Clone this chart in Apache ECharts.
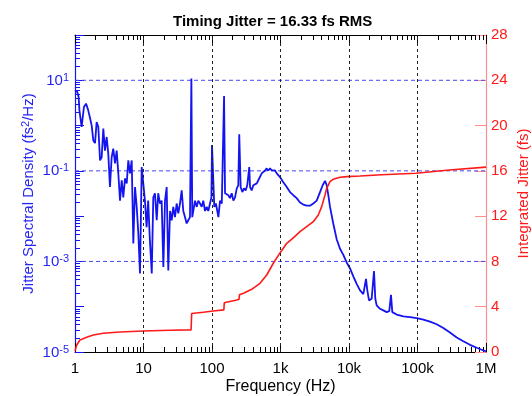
<!DOCTYPE html>
<html><head><meta charset="utf-8">
<script src="https://cdn.jsdelivr.net/npm/echarts@6/dist/echarts.min.js"></script>
<style>html,body{margin:0;padding:0;background:#fff}#c{width:532px;height:396px}</style>
</head><body><div id="c"></div>
<script>
// ---- data (frequency in Hz, PSD in fs^2/Hz) ----
const psdPoints = [[1,6.0],[1.08,5.5],[1.13,4.28],[1.16,2.17],[1.21,2.4],[1.25,0.93],[1.32,0.86],[1.35,2.57],[1.45,3.05],[1.56,2.17],[1.66,1.45],[1.75,1.01],[1.85,0.47],[1.96,0.41],[2.07,1.2],[2.19,0.93],[2.32,0.17],[2.45,0.2],[2.59,0.86],[2.74,0.28],[2.9,0.56],[3.06,0.24],[3.24,0.044],[3.43,0.2],[3.62,0.31],[3.84,0.147],[4.06,0.28],[4.29,0.088],[4.54,0.022],[4.81,0.062],[5.07,0.026],[5.37,0.068],[5.69,0.053],[6.0,0.17],[6.35,0.088],[6.73,0.17],[7.1,0.0025],[7.52,0.044],[7.96,0.016],[8.4,0.0042],[8.89,0.00054],[9.42,0.121],[9.93,0.126],[10.5,0.022],[11.1,0.0057],[11.7,0.022],[12.4,0.0029],[13.2,0.00054],[13.9,0.026],[14.7,0.032],[15.6,0.0081],[16.4,0.032],[17.4,0.019],[18.4,0.022],[19.5,0.00075],[20.6,0.022],[21.8,0.044],[23.0,0.00063],[24.4,0.013],[25.8,0.0081],[27.2,0.016],[28.8,0.0095],[30.5,0.019],[32.2,0.0115],[34.1,0.019],[36.1,0.037],[38.1,0.013],[40.4,0.0095],[42.7,0.0069],[45.1,0.0081],[47.7,0.0095],[50,11],[51.5,0.0095],[56.5,0.022],[59.8,0.016],[63.1,0.022],[66.8,0.019],[70.8,0.016],[74.6,0.022],[79.1,0.013],[83.7,0.016],[88.3,0.013],[93.5,0.019],[98,0.026],[100,0.37],[108,0.016],[114,0.019],[124,0.0095],[131,0.022],[139,0.019],[150,4.5],[155,0.032],[164,0.034],[173,0.029],[183,0.025],[194,0.032],[205,0.022],[217,0.026],[230,0.041],[242,0.048],[250,0.64],[262,0.044],[277,0.034],[293,0.041],[310,0.037],[327,0.048],[350,0.121],[359,0.044],[380,0.037],[401,0.048],[425,0.044],[450,0.053],[474,0.062],[502,0.068],[532,0.088],[561,0.08],[594,0.102],[629,0.113],[664,0.102],[703,0.113],[745,0.102],[785,0.094],[832,0.102],[881,0.088],[929,0.08],[984,0.073],[1099,0.056],[1233,0.044],[1376,0.034],[1538,0.029],[1722,0.025],[1927,0.02],[2153,0.018],[2412,0.017],[2698,0.017],[3013,0.019],[3377,0.022],[3775,0.034],[4130,0.048],[4467,0.06],[4732,0.048],[4989,0.029],[5284,0.016],[5902,0.0068],[6607,0.0031],[7391,0.0019],[8260,0.0014],[9250,0.00095],[10350,0.0007],[11560,0.00047],[12940,0.00032],[14490,0.00023],[16180,0.00019],[16560,0.00023],[17700,0.00041],[18500,0.00023],[19590,0.000138],[21430,0.00015],[23170,0.00061],[24210,0.00015],[25350,0.000107],[28380,0.00009],[31700,0.000083],[35480,0.000076],[38730,0.00008],[41020,0.000184],[42850,0.000076],[49660,0.000067],[62090,0.000061],[77800,0.000059],[97300,0.000056],[121600,0.000052],[152100,0.000047],[190500,0.000041],[238200,0.000034],[297900,0.000027],[373300,0.000021],[466700,0.0000173],[583400,0.0000144],[731200,0.0000124],[865000,0.0000112],[1000000,0.0000103]];
// integrated jitter (fs)
const jitterPoints = [[1,0.1],[1.06,0.62],[1.18,1.06],[1.48,1.3],[1.85,1.5],[2.59,1.65],[4.54,1.77],[9.93,1.86],[24.4,1.92],[49.5,1.95],[50.5,3.4],[74.6,3.51],[104,3.62],[149,3.72],[151,4.35],[230,4.59],[248,4.65],[252,5.05],[289,5.19],[380,5.54],[502,6.07],[629,6.8],[785,7.84],[984,8.75],[1233,9.6],[1507,10.04],[1927,10.63],[2412,11.07],[3013,11.51],[3565,12.1],[3990,12.84],[4467,13.87],[4732,14.46],[5284,15.04],[5902,15.26],[7391,15.43],[9250,15.49],[14490,15.55],[30000,15.65],[95000,15.79],[291000,16.08],[1000000,16.33]];
const xTickLabels = ['1','10','100','1k','10k','100k','1M'];
const yLabelExponents = [-5,-3,-1,1];
const xGridValues = [10,100,1000,10000,100000];
const yGridValues = [10,0.1,0.001];
const titleText = 'Timing Jitter = 16.33 fs RMS';

// minor tick positions (2..9 per decade)
function minors(lo, hi){const a=[];for(let e=lo;e<hi;e++){for(let k=2;k<=9;k++)a.push(+(k*Math.pow(10,e)).toPrecision(3));}return a;}
function majors(lo, hi){const a=[];for(let e=lo;e<=hi;e++)a.push(+Math.pow(10,e).toPrecision(3));return a;}
const xMinor = minors(0,6), xMajor = majors(0,6);
const yMinor = minors(-5,2), yMajor = majors(-5,2);
const X_MIN = 1, X_MAX = 1e6;

const FONT = 'Liberation Sans, Arial, Helvetica, sans-serif';
const BLUE = '#1414f0', BLUE_TXT = '#2626f2', RED = '#ff1a1a', PINK = '#ff8f8f';

const chart = echarts.init(document.getElementById('c'), null, {renderer:'canvas'});
const xBase = {type:'log', logBase:10, min:X_MIN, max:X_MAX, splitLine:{show:false}, axisLabel:{show:false}, axisLine:{show:false, onZero:false}};
const yLogBase = {type:'log', logBase:10, min:1e-5, max:100, splitLine:{show:false}, axisLabel:{show:false}, axisLine:{show:false, onZero:false}};
const supRich = {
  b:{fontSize:15, color:BLUE_TXT, fontFamily:FONT, verticalAlign:'bottom', lineHeight:16},
  s:{fontSize:11, color:BLUE_TXT, fontFamily:FONT, verticalAlign:'top', lineHeight:12, padding:[0,0,6,0]}
};
const hGridSeries = yGridValues.map(v=>({
  type:'line', xAxisIndex:0, yAxisIndex:0, data:[[X_MIN,v],[X_MAX,v]], showSymbol:false, silent:true, z:1,
  lineStyle:{color:'#4545f0', type:[4,3], width:1}
}));
chart.setOption({
  animation:false,
  textStyle:{fontFamily:FONT},
  title:{text:titleText, left:168, top:9, textStyle:{fontSize:15, fontWeight:'bold', color:'#000', fontFamily:FONT}},
  grid:{left:75, right:46, top:35, bottom:44, containLabel:false, outerBoundsMode:'none'},
  xAxis:[
    Object.assign({}, xBase, {position:'bottom',
      axisLine:{show:true, onZero:false, lineStyle:{color:'#000', width:1}},
      axisTick:{inside:true, length:9, customValues:xMajor, lineStyle:{color:'#000'}},
      axisLabel:{show:true, interval:0, customValues:xMajor, color:'#000', fontSize:15, margin:9, fontFamily:FONT,
        formatter:v=>xTickLabels[Math.round(Math.log10(v))]},
      name:'Frequency (Hz)', nameLocation:'middle', nameGap:27, nameMoveOverlap:false,
      nameTextStyle:{color:'#000', fontSize:16, fontFamily:FONT}}),
    Object.assign({}, xBase, {position:'bottom', axisTick:{inside:true, length:5, customValues:xMinor, lineStyle:{color:'#000'}}}),
    Object.assign({}, xBase, {position:'top',
      axisLine:{show:true, onZero:false, lineStyle:{color:'#000', width:1}},
      axisTick:{inside:true, length:9, customValues:xMajor, lineStyle:{color:'#000'}}}),
    Object.assign({}, xBase, {position:'top', axisTick:{inside:true, length:5, customValues:xMinor, lineStyle:{color:'#000'}}})
  ],
  yAxis:[
    Object.assign({}, yLogBase, {position:'left',
      axisLine:{show:true, onZero:false, lineStyle:{color:BLUE, width:1.2}},
      axisTick:{inside:true, length:9, customValues:yMajor, lineStyle:{color:BLUE}},
      axisLabel:{show:true, interval:0, customValues:yMajor, margin:6,
        formatter:v=>{const e=Math.round(Math.log10(v));return yLabelExponents.indexOf(e)>=0?('{b|10}{s|'+e+'}'):'';},
        rich:supRich},
      name:'{b|Jitter Spectral Density (fs}{s|2}{b|/Hz)}', nameLocation:'middle', nameGap:39, nameRotate:90, nameMoveOverlap:false,
      nameTextStyle:{rich:supRich}}),
    {type:'value', position:'right', min:0, max:28, interval:4,
      axisLine:{show:true, onZero:false, lineStyle:{color:PINK, width:1.2}},
      axisTick:{inside:true, length:11, lineStyle:{color:PINK}},
      axisLabel:{color:RED, fontSize:15, margin:5, fontFamily:FONT},
      splitLine:{show:false},
      name:'Integrated Jitter (fs)', nameLocation:'middle', nameGap:30, nameRotate:90, nameMoveOverlap:false,
      nameTextStyle:{color:RED, fontSize:15, fontFamily:FONT}},
    Object.assign({}, yLogBase, {position:'left', axisTick:{inside:true, length:5, customValues:yMinor, lineStyle:{color:BLUE}}})
  ],
  series:[
    {type:'line', xAxisIndex:0, yAxisIndex:0, data:[[1,1e-5]], showSymbol:false, silent:true, z:1,
      lineStyle:{opacity:0},
      markLine:{silent:true, symbol:['none','none'], label:{show:false}, animation:false,
        lineStyle:{color:'#222', type:[3,3], width:1},
        data:xGridValues.map(v=>({xAxis:v}))}}
  ].concat(hGridSeries, [
    {type:'line', name:'PSD', xAxisIndex:0, yAxisIndex:0, data:psdPoints, showSymbol:false, z:3,
      lineStyle:{color:BLUE, width:1.8}, itemStyle:{color:BLUE}},
    {type:'line', name:'Integrated', xAxisIndex:0, yAxisIndex:1, data:jitterPoints, showSymbol:false, z:4,
      lineStyle:{color:RED, width:1.6}, itemStyle:{color:RED}}
  ])
});
</script></body></html>
